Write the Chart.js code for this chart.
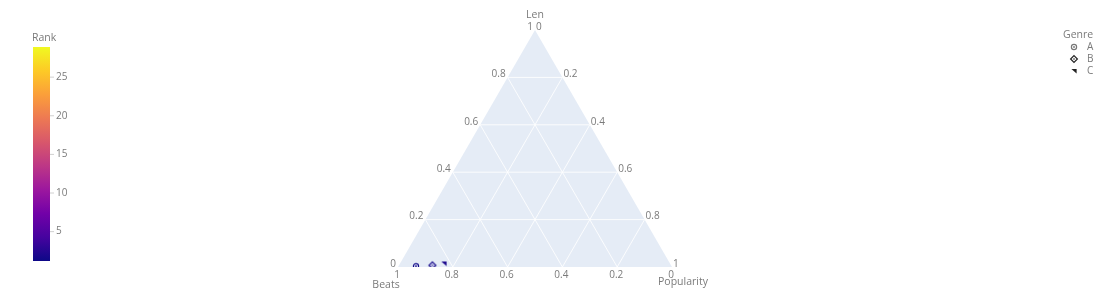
<!DOCTYPE html>
<html>
<head>
<meta charset="utf-8">
<script src="https://cdn.jsdelivr.net/npm/chart.js@4/dist/chart.umd.min.js"></script>
<style>
  body { margin: 0; background: #fff; }
</style>
</head>
<body>
<canvas id="ternary" width="1100" height="303"></canvas>
<script>
// data (ternary fractions)
const genres = ["A", "B", "C"];
const lenVals = [0.003, 0.007, 0.015];       // a axis
const beatsVals = [0.933, 0.871, 0.825];     // b axis
const popularityVals = [0.064, 0.122, 0.160]; // c axis
const ranks = [1.3, 1.6, 2.0];
const rankRange = [1.2, 28.9];
const rankTicks = [5, 10, 15, 20, 25];
const axisTicks = [0, 0.2, 0.4, 0.6, 0.8, 1];
const tickText = ["0", "0.2", "0.4", "0.6", "0.8", "1"];
const symbols = ["circle-dot", "diamond-dot", "triangle-ne"];

const plasma = ["#0d0887", "#46039f", "#7201a8", "#9c179e", "#bd3786",
                "#d8576b", "#ed7953", "#fb9f3a", "#fdca26", "#f0f921"];
const SQ3 = Math.sqrt(3) / 2;
const FONT = '"Open Sans", "DejaVu Sans", sans-serif';
const TXT = "#7a7a7a";

function hexRgb(h) {
    return [1, 3, 5].map(i => parseInt(h.substr(i, 2), 16));
}
function plasmaColor(r) {
    let t = (r - rankRange[0]) / (rankRange[1] - rankRange[0]);
    t = Math.max(0, Math.min(1, t)) * (plasma.length - 1);
    const i = Math.min(Math.floor(t), plasma.length - 2);
    const f = t - i;
    const a = hexRgb(plasma[i]), b = hexRgb(plasma[i + 1]);
    const c = a.map((v, k) => Math.round(v + (b[k] - v) * f));
    return `rgb(${c[0]},${c[1]},${c[2]})`;
}

// small canvas used as a point style
function drawSymbol(ctx, sym, x, y, col, fill) {
    ctx.save();
    ctx.strokeStyle = col;
    ctx.fillStyle = fill;
    ctx.lineWidth = 1.2;
    if (sym === "circle-dot") {
        ctx.beginPath(); ctx.arc(x, y, 2.6, 0, Math.PI * 2);
        ctx.fill(); ctx.stroke();
        ctx.fillStyle = col;
        ctx.beginPath(); ctx.arc(x, y, 0.9, 0, Math.PI * 2); ctx.fill();
    } else if (sym === "diamond-dot") {
        ctx.beginPath();
        ctx.moveTo(x, y - 3.4); ctx.lineTo(x + 3.4, y);
        ctx.lineTo(x, y + 3.4); ctx.lineTo(x - 3.4, y); ctx.closePath();
        ctx.fill(); ctx.stroke();
        ctx.fillStyle = col;
        ctx.beginPath(); ctx.arc(x, y, 0.8, 0, Math.PI * 2); ctx.fill();
    } else {
        ctx.fillStyle = col;
        ctx.beginPath();
        ctx.moveTo(x - 2.6, y - 2); ctx.lineTo(x + 2.6, y - 2);
        ctx.lineTo(x + 2.6, y + 2.6); ctx.closePath();
        ctx.fill();
    }
    ctx.restore();
}
function symbolCanvas(sym, col) {
    const c = document.createElement("canvas");
    c.width = 10; c.height = 10;
    drawSymbol(c.getContext("2d"), sym, 5, 5, col, "rgba(235,238,250,0.9)");
    return c;
}

const datasets = genres.map((g, i) => ({
    label: g,
    data: [{ x: popularityVals[i] + lenVals[i] / 2, y: lenVals[i] * SQ3 }],
    pointStyle: symbolCanvas(symbols[i], plasmaColor(ranks[i])),
    pointRadius: 5
}));

const ternaryPlugin = {
    id: "ternary",
    beforeDatasetsDraw(chart) {
        const ctx = chart.ctx;
        const xs = chart.scales.x, ys = chart.scales.y;
        const P = (a, c) => [xs.getPixelForValue(c + a / 2), ys.getPixelForValue(a * SQ3)];
        ctx.save();
        // background
        ctx.beginPath();
        ctx.moveTo(...P(1, 0)); ctx.lineTo(...P(0, 0)); ctx.lineTo(...P(0, 1));
        ctx.closePath();
        ctx.fillStyle = "#e5ecf6";
        ctx.fill();
        // grid
        ctx.strokeStyle = "rgba(255,255,255,0.85)";
        ctx.lineWidth = 1;
        axisTicks.slice(1, -1).forEach(k => {
            const lines = [
                [P(k, 0), P(k, 1 - k)],          // Len
                [P(0, 1 - k), P(1 - k, 0)],      // Beats
                [P(0, k), P(1 - k, k)]           // Popularity
            ];
            lines.forEach(([p, q]) => {
                ctx.beginPath(); ctx.moveTo(...p); ctx.lineTo(...q); ctx.stroke();
            });
        });
        // tick labels
        ctx.font = "10px " + FONT;
        ctx.fillStyle = TXT;
        ctx.textBaseline = "middle";
        axisTicks.forEach((k, i) => {
            let p = P(k, 0);
            ctx.textAlign = "right";
            ctx.fillText(tickText[i], p[0] - 2, p[1] - 3);
            p = P(0, 1 - k);
            ctx.textAlign = "center";
            ctx.fillText(tickText[i], p[0] - 1, p[1] + 8);
            p = P(1 - k, k);
            ctx.textAlign = "left";
            ctx.fillText(tickText[i], p[0] + 1, p[1] - 3);
        });
        // axis titles
        ctx.font = "10.5px " + FONT;
        ctx.textAlign = "center";
        let p = P(1, 0);
        ctx.fillText("Len", p[0], p[1] - 15);
        p = P(0, 0);
        ctx.fillText("Beats", p[0] - 12, p[1] + 18);
        p = P(0, 1);
        ctx.fillText("Popularity", p[0] + 11, p[1] + 15);
        ctx.restore();
    },
    afterDraw(chart) {
        const ctx = chart.ctx;
        ctx.save();
        // colour bar
        const top = 47, bot = 261, x0 = 33, w = 17;
        const grad = ctx.createLinearGradient(0, bot, 0, top);
        plasma.forEach((c, i) => grad.addColorStop(i / (plasma.length - 1), c));
        ctx.fillStyle = grad;
        ctx.fillRect(x0, top, w, bot - top);
        ctx.font = "10px " + FONT;
        ctx.fillStyle = TXT;
        ctx.textAlign = "left";
        ctx.textBaseline = "middle";
        ctx.strokeStyle = "#d0d0d0";
        ctx.lineWidth = 1;
        rankTicks.forEach(r => {
            const y = bot - (r - rankRange[0]) / (rankRange[1] - rankRange[0]) * (bot - top);
            ctx.beginPath(); ctx.moveTo(x0 + w, y); ctx.lineTo(x0 + w + 4, y); ctx.stroke();
            ctx.fillText(String(r), x0 + w + 6, y);
        });
        ctx.font = "10.5px " + FONT;
        ctx.fillText("Rank", 32, 38);
        // legend
        ctx.fillText("Genre", 1063, 35);
        ctx.font = "10px " + FONT;
        genres.forEach((g, i) => {
            const y = 47 + i * 12;
            drawSymbol(ctx, symbols[i], 1074, y, i === 0 ? "#777" : "#222", "#fff");
            ctx.fillStyle = TXT;
            ctx.fillText(g, 1087, y);
        });
        ctx.restore();
    }
};

new Chart(document.getElementById("ternary").getContext("2d"), {
    type: "scatter",
    data: { datasets: datasets },
    options: {
        responsive: false,
        animation: false,
        devicePixelRatio: 1,
        layout: { padding: { left: 398, right: 428, top: 30, bottom: 36 } },
        scales: {
            x: { type: "linear", min: 0, max: 1, display: false },
            y: { type: "linear", min: 0, max: SQ3, display: false }
        },
        plugins: {
            legend: { display: false },
            tooltip: { enabled: false }
        }
    },
    plugins: [ternaryPlugin]
});
</script>
</body>
</html>
